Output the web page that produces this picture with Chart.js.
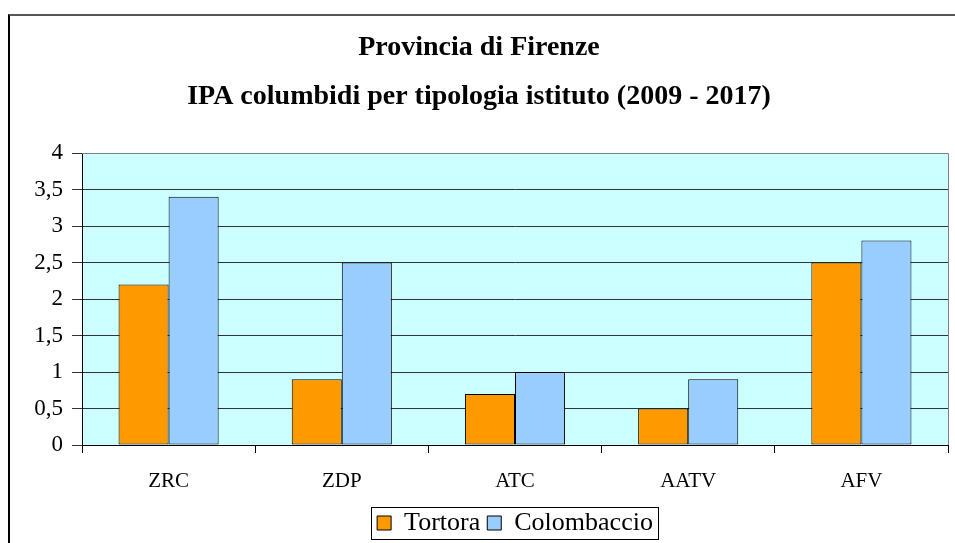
<!DOCTYPE html>
<html>
<head>
<meta charset="utf-8">
<script src="https://cdn.jsdelivr.net/npm/chart.js@4.4.0/dist/chart.umd.min.js"></script>
<style>
  html, body { margin: 0; padding: 0; background: #ffffff; }
  #wrap { position: relative; width: 955px; height: 543px; overflow: hidden; }
  #cornice { position: absolute; left: 8px; top: 14px; width: 960px; height: 560px; border-left: 2px solid #000; border-top: 2px solid #555; box-sizing: border-box; }
  canvas { position: absolute; left: 0; top: 0; }
</style>
</head>
<body>
<div id="wrap">
  <canvas id="grafico" width="955" height="543"></canvas>
  <div id="cornice"></div>
</div>
<script>
// Dati del grafico
var categorie = ['ZRC', 'ZDP', 'ATC', 'AATV', 'AFV'];
var tortora = [2.2, 0.9, 0.7, 0.5, 2.5];
var colombaccio = [3.4, 2.5, 1.0, 0.9, 2.8];
var titolo = ['Provincia di Firenze', 'IPA columbidi per tipologia istituto (2009 - 2017)'];

var serif = "'Liberation Serif', 'DejaVu Serif', serif";

// Sfondo azzurro dell'area del grafico, bordo grigio e cornice della legenda
var sfondoPlugin = {
    id: 'sfondo',
    afterLayout: function (chart) {
        // la legenda nell'originale non e' centrata: spostiamola un po'
        var lg = chart.legend;
        lg.left += 36; lg.right += 36;
        lg.top += 3; lg.bottom += 3;
    },
    beforeDraw: function (chart) {
        var a = chart.chartArea;
        var ctx = chart.ctx;
        ctx.save();
        ctx.fillStyle = '#CCFFFF';
        ctx.fillRect(a.left, a.top, a.right - a.left, a.bottom - a.top);
        ctx.restore();
    },
    afterDraw: function (chart) {
        var a = chart.chartArea;
        var ctx = chart.ctx;
        ctx.save();
        ctx.strokeStyle = '#808080';
        ctx.lineWidth = 1;
        ctx.beginPath();
        ctx.moveTo(a.left, a.top + 0.5);
        ctx.lineTo(a.right + 0.5, a.top + 0.5);
        ctx.lineTo(a.right + 0.5, a.bottom);
        ctx.stroke();

        var boxes = chart.legend.legendHitBoxes;
        if (boxes && boxes.length) {
            var x1 = boxes[0].left - 6;
            var last = boxes[boxes.length - 1];
            var x2 = last.left + last.width + 5;
            var y1 = boxes[0].top - 3;
            var y2 = boxes[0].top + boxes[0].height + 3;
            ctx.strokeStyle = '#000';
            ctx.strokeRect(Math.round(x1) + 0.5, Math.round(y1) + 0.5, Math.round(x2 - x1), Math.round(y2 - y1));
        }
        ctx.restore();
    }
};

var ctx = document.getElementById('grafico').getContext('2d');
var grafico = new Chart(ctx, {
    type: 'bar',
    data: {
        labels: categorie,
        datasets: [{
            label: 'Tortora',
            data: tortora,
            backgroundColor: '#FF9900',
            borderColor: '#000000',
            borderWidth: 1,
            borderSkipped: false
        }, {
            label: 'Colombaccio',
            data: colombaccio,
            backgroundColor: '#99CCFF',
            borderColor: '#000000',
            borderWidth: 1,
            borderSkipped: false
        }]
    },
    options: {
        responsive: false,
        animation: false,
        maintainAspectRatio: false,
        layout: { padding: { left: 10, right: 7, top: 23, bottom: 0 } },
        datasets: { bar: { categoryPercentage: 0.578, barPercentage: 1.0 } },
        plugins: {
            title: {
                display: true,
                text: titolo,
                color: '#000',
                font: { family: serif, size: 28, weight: 'bold', lineHeight: 1.75 },
                padding: { top: 0, bottom: 32 }
            },
            legend: {
                position: 'bottom',
                labels: {
                    color: '#000',
                    font: { family: serif, size: 26 },
                    boxWidth: 14,
                    boxHeight: 14,
                    padding: 7,
                    useBorderRadius: false
                }
            },
            tooltip: { enabled: false }
        },
        scales: {
            x: {
                grid: { display: true, offset: true, drawOnChartArea: false, color: '#000', tickLength: 8 },
                border: { color: '#000', width: 1 },
                ticks: { color: '#000', font: { family: serif, size: 21 }, padding: 16 },
                afterFit: function (scale) { scale.height = 55; }
            },
            y: {
                min: 0,
                max: 4,
                grid: { color: '#333', tickLength: 10 },
                border: { color: '#000', width: 1 },
                ticks: {
                    stepSize: 0.5,
                    color: '#000',
                    font: { family: serif, size: 23 },
                    padding: 9,
                    callback: function (v) { return String(v).replace('.', ','); }
                },
                afterFit: function (scale) { scale.width = 72; }
            }
        }
    },
    plugins: [sfondoPlugin]
});
</script>
</body>
</html>
